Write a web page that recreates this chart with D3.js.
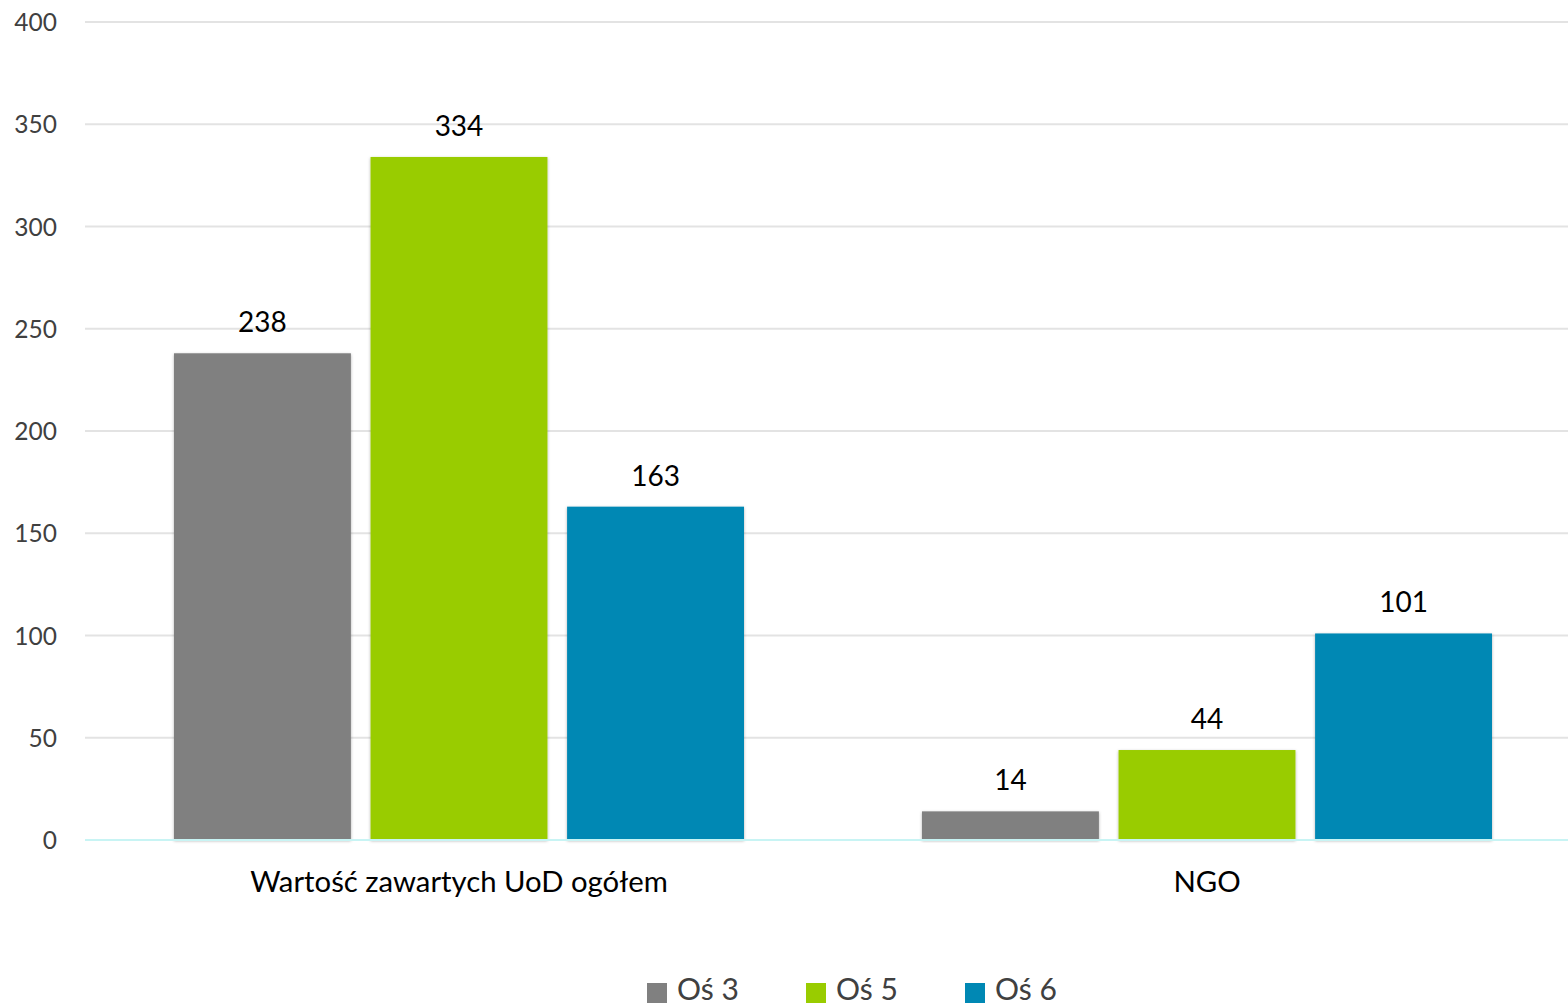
<!DOCTYPE html>
<html><head><meta charset="utf-8">
<script src="https://cdn.jsdelivr.net/npm/d3@7"></script>
<style>body{margin:0;background:#fff}svg{display:block}</style>
</head><body>
<svg id="c" width="1568" height="1006"></svg>
<script>
const categories = ["Wartość zawartych UoD ogółem", "NGO"];
const seriesNames = ["Oś 3", "Oś 5", "Oś 6"];
const os3 = [238, 14];
const os5 = [334, 44];
const os6 = [163, 101];
const yTicks = [0, 50, 100, 150, 200, 250, 300, 350, 400];
const colors = ["#808080", "#99cc00", "#0088b4"];
const seriesValues = [os3, os5, os6];

const svg = d3.select("#c");
const font = "Lato, 'Open Sans', sans-serif";
const y = d3.scaleLinear().domain([0, 400]).range([840, 22]);
const x0 = d3.scaleBand().domain(categories).range([85, 1581]).paddingInner(0).paddingOuter(0);
const x1 = d3.scaleBand().domain(seriesNames).range([89, x0.bandwidth() - 89]).paddingInner(0.1).paddingOuter(0);

const defs = svg.append("defs");
const f = defs.append("filter").attr("id", "sh").attr("x", "-10%").attr("y", "-10%").attr("width", "120%").attr("height", "120%");
f.append("feDropShadow").attr("dx", 0).attr("dy", 1).attr("stdDeviation", 1.5).attr("flood-color", "#000").attr("flood-opacity", 0.3);

// grid
const yAxis = d3.axisLeft(y).tickValues(yTicks).tickSize(0).tickPadding(0);
const gy = svg.append("g").attr("transform", "translate(57,0)").call(yAxis);
gy.select(".domain").remove();
gy.selectAll("text").attr("font-family", font).attr("font-size", 24.5).attr("fill", "#404040").attr("dy", "0.35em");
svg.append("g").selectAll("line").data(yTicks.filter(d => d > 0)).join("line")
  .attr("x1", 85).attr("x2", 1568).attr("y1", d => y(d)).attr("y2", d => y(d))
  .attr("stroke", "#e3e3e3").attr("stroke-width", 2);

// bars
const groups = svg.append("g").selectAll("g").data(categories).join("g")
  .attr("transform", d => `translate(${x0(d)},0)`);
const items = groups.selectAll("g").data((c, i) => seriesNames.map((s, j) => ({ s, v: seriesValues[j][i], j }))).join("g");
items.append("rect")
  .attr("x", d => x1(d.s)).attr("width", x1.bandwidth())
  .attr("y", d => y(d.v)).attr("height", d => y(0) - y(d.v))
  .attr("fill", d => colors[d.j]).attr("filter", "url(#sh)");
items.append("text")
  .attr("x", d => x1(d.s) + x1.bandwidth() / 2).attr("y", d => y(d.v) - 21)
  .attr("text-anchor", "middle").attr("font-family", font).attr("font-size", 28).attr("fill", "#000")
  .text(d => d.v);

// baseline
svg.append("line").attr("x1", 85).attr("x2", 1568).attr("y1", y(0)).attr("y2", y(0))
  .attr("stroke", "#c8f4f4").attr("stroke-width", 2);

// category labels
const xAxis = d3.axisBottom(x0).tickSize(0).tickPadding(0);
const gx = svg.append("g").attr("transform", "translate(0,892)").call(xAxis);
gx.select(".domain").remove();
gx.selectAll("text").attr("font-family", font).attr("font-size", 29.3).attr("fill", "#000").attr("dy", 0);

// legend
const lx = [647, 806, 965];
const lg = svg.append("g").selectAll("g").data(seriesNames).join("g")
  .attr("transform", (d, i) => `translate(${lx[i]},983)`);
lg.append("rect").attr("width", 20).attr("height", 20).attr("fill", (d, i) => colors[i]);
lg.append("text").attr("x", 30).attr("y", 17).attr("font-family", font).attr("font-size", 30).attr("fill", "#404040").text(d => d);
</script>
</body></html>
